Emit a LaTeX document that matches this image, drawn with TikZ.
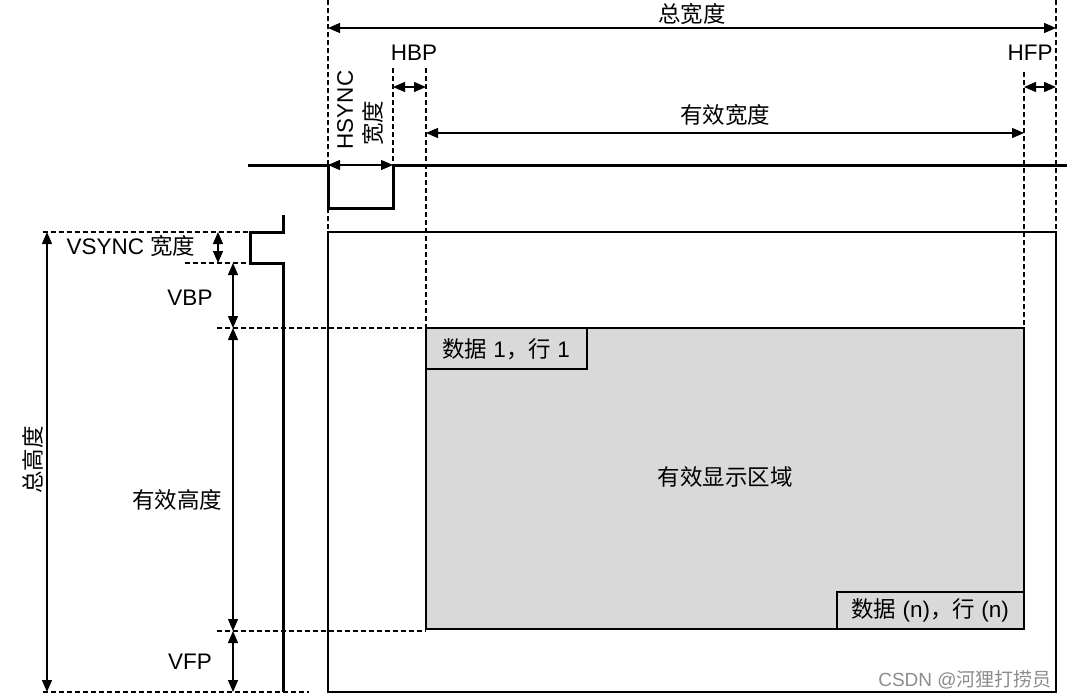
\documentclass[tikz,border=0pt]{standalone}
\usepackage{fontspec}
\setmainfont{Liberation Sans}
\newfontfamily\cjk{Noto Sans CJK SC}
\usetikzlibrary{arrows.meta, positioning}

\definecolor{areagray}{RGB}{217,217,217}
\tikzset{
  guide/.style={line width=1.1pt, dash pattern=on 5pt off 3pt},
  sig/.style={line width=3pt, line join=miter},
  dim/.style={line width=1.3pt, {Triangle[length=12pt,width=10pt]}-{Triangle[length=12pt,width=10pt]}},
  lbl/.style={font=\fontsize{22.5}{26}\selectfont, inner sep=1pt},
}

\begin{document}
\begin{tikzpicture}[x=1pt, y=-1pt]
  \useasboundingbox (0,0) rectangle (1067,699);

  % frame and active area
  \draw[line width=1.2pt] (328,232) rectangle (1056,692);
  \draw[line width=1.2pt, fill=areagray] (426,328) rectangle (1024,629);
  \draw[line width=1.2pt] (426,328) rectangle (587,369);
  \draw[line width=1.2pt] (837,592) rectangle (1024,629);

  % guide lines
  \draw[guide] (328,0) -- (328,232);
  \draw[guide] (1056,0) -- (1056,232);
  \draw[guide] (393,68) -- (393,165);
  \draw[guide] (426,68) -- (426,328);
  \draw[guide] (1024,72) -- (1024,328);
  \draw[guide] (43,232) -- (250,232);
  \draw[guide] (185,263) -- (250,263);
  \draw[guide] (217,328) -- (426,328);
  \draw[guide] (217,631) -- (426,631);
  \draw[guide] (43,692) -- (309,692);

  % sync signals
  \draw[sig] (248,165) -- (328,165) -- (328,208) -- (393,208) -- (393,165) -- (1067,165);
  \draw[sig] (283,215) -- (283,232) -- (250,232) -- (250,263) -- (283,263) -- (283,692);

  % horizontal dimensions
  \draw[dim] (328,28) -- (1056,28);
  \draw[dim] (393,87) -- (426,87);
  \draw[dim] (1024,87) -- (1056,87);
  \draw[dim] (426,133) -- (1024,133);
  \draw[dim] (328,165) -- (393,165);

  % vertical dimensions
  \draw[dim] (47,232) -- (47,692);
  \draw[dim] (218,232) -- (218,263);
  \draw[dim] (233,263) -- (233,328);
  \draw[dim] (233,328) -- (233,631);
  \draw[dim] (233,631) -- (233,692);

  % labels
  \node[lbl] (totw) at (692,14) {\cjk 总宽度};
  \node[lbl] (hbp) at (414,53) {HBP};
  \node[lbl] (hfp) at (1030,53) {HFP};
  \node[lbl] (actw) at (725,115) {\cjk 有效宽度};
  \node[lbl, rotate=90] (hsync) at (345,110) {HSYNC};
  \node[lbl, rotate=90] (hsyncw) at (373,123) {\cjk 宽度};
  \node[lbl] (vsync) at (131,246) {VSYNC {\cjk 宽度}};
  \node[lbl] (vbp) at (190,298) {VBP};
  \node[lbl] (acth) at (177,500) {\cjk 有效高度};
  \node[lbl] (vfp) at (190,662) {VFP};
  \node[lbl, rotate=90] (toth) at (33,460) {\cjk 总高度};
  \node[lbl] (area) at (725,477) {\cjk 有效显示区域};
  \node[lbl] (first) at (506,349) {{\cjk 数据} 1{\cjk ，行} 1};
  \node[lbl] (last) at (930,610) {{\cjk 数据} (n){\cjk ，行} (n)};
  \node[lbl, text=black!45, font=\fontsize{19}{22}\selectfont] (mark) at (965,680) {CSDN @{\cjk 河狸打捞员}};
\end{tikzpicture}
\end{document}
